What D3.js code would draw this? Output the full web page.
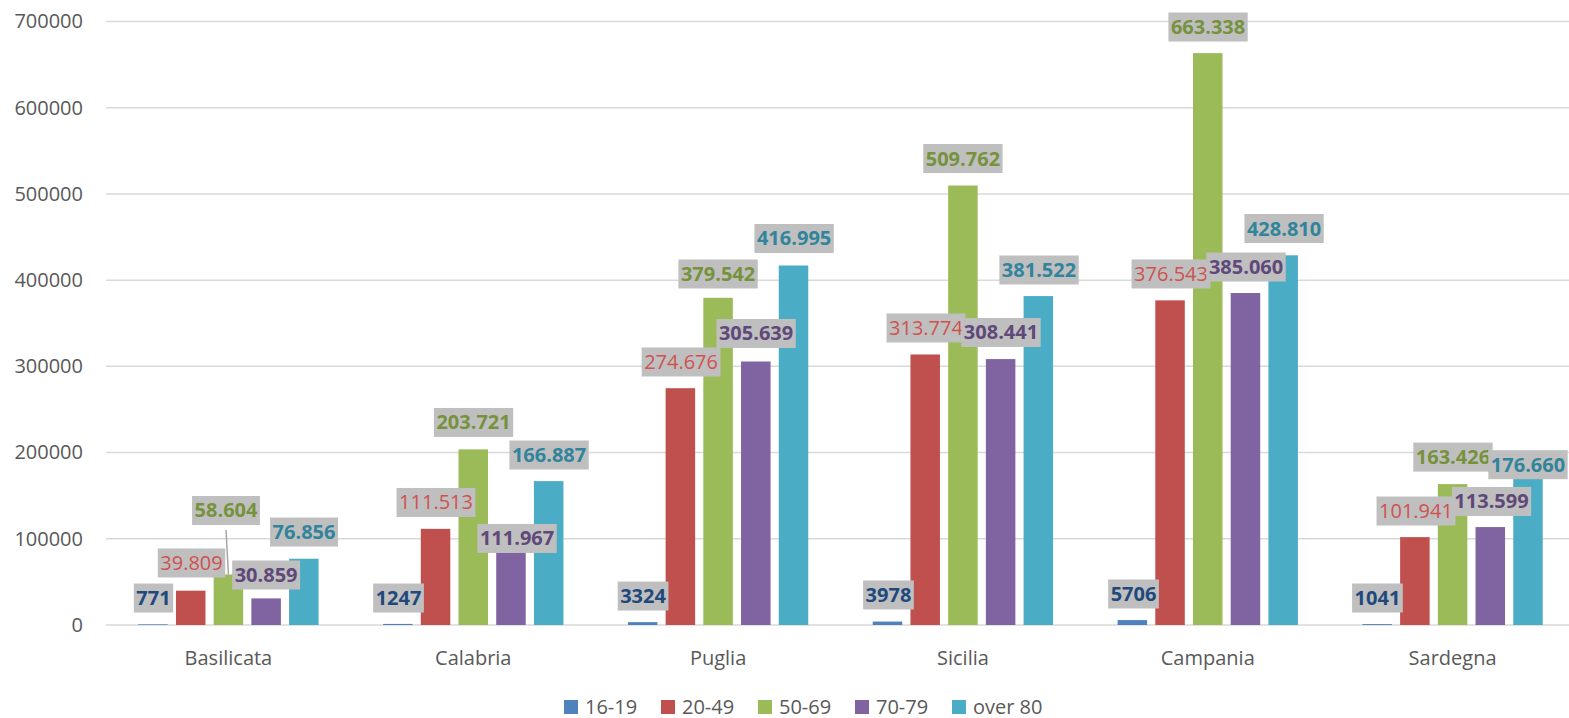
<!DOCTYPE html>
<html>
<head>
<meta charset="utf-8">
<script src="https://cdn.jsdelivr.net/npm/d3@7"></script>
<style>
  html, body { margin: 0; padding: 0; background: #ffffff; }
  svg { display: block; font-family: "Open Sans", "Noto Sans", sans-serif; }
</style>
</head>
<body>
<svg id="chart" width="1569" height="718"></svg>
<script>
// Regions on the x axis
const categories = ["Basilicata", "Calabria", "Puglia", "Sicilia", "Campania", "Sardegna"];
// Age groups (one bar per group inside each region)
const seriesNames = ["16-19", "20-49", "50-69", "70-79", "over 80"];

// Values per age group, in region order
const s16_19  = [771, 1247, 3324, 3978, 5706, 1041];
const s20_49  = [39809, 111513, 274676, 313774, 376543, 101941];
const s50_69  = [58604, 203721, 379542, 509762, 663338, 163426];
const s70_79  = [30859, 111967, 305639, 308441, 385060, 113599];
const sOver80 = [76856, 166887, 416995, 381522, 428810, 176660];
const seriesValues = [s16_19, s20_49, s50_69, s70_79, sOver80];

// Y axis ticks
const yTicks = [0, 100000, 200000, 300000, 400000, 500000, 600000, 700000];

// Styling
const barColors   = ["#4f81bd", "#c0504d", "#9bbb59", "#8064a2", "#4bacc6"];
const labelColors = ["#1f497d", "#d0524f", "#76923c", "#5f497a", "#31849b"];
const labelWeights = [700, 400, 700, 700, 700];

// Label nudges [dx, dy] from the bar's top centre, per series then region
const labelShift = [
  [[0.5,-26.3],[0.7,-25.9],[0.4,-26.1],[1,-26.6],[1.2,-26.1],[0.3,-26.1]],
  [[0.8,-27.7],[0.5,-26.4],[0.7,-26.2],[0.8,-26.5],[1,-26.4],[1.1,-26.1]],
  [[-2.4,-64],[0.3,-26.9],[0,-23.8],[0,-27],[0.3,-26.1],[0.4,-27]],
  [[0,-23.4],[6.1,10],[0.3,-28],[0.4,-26.6],[0.6,-26],[1.2,-25.6]],
  [[0.2,-26.7],[0.4,-26.1],[0.6,-27],[0.7,-26.1],[0.9,-26.8],[0,-8]]
];
// Labels that get a leader line back to their bar: [series, region]
const leaderLines = [[2, 0]];

const svg = d3.select("#chart");

const x0 = d3.scaleBand().domain(categories).range([106, 1575]).paddingInner(0).paddingOuter(0);
const x1 = d3.scaleBand().domain(seriesNames).range([0, x0.bandwidth()])
  .paddingInner(0.2175).paddingOuter(0.855);
const y = d3.scaleLinear().domain([0, 700000]).range([625, 21.5]);

// Horizontal gridlines
svg.append("g")
  .selectAll("line")
  .data(yTicks)
  .join("line")
  .attr("x1", 106).attr("x2", 1569)
  .attr("y1", d => y(d)).attr("y2", d => y(d))
  .attr("stroke", "#d9d9d9")
  .attr("stroke-width", 1.5);

// Y axis labels
const yAxis = svg.append("g")
  .attr("transform", "translate(106,0)")
  .call(d3.axisLeft(y).tickValues(yTicks).tickFormat(d3.format("d")).tickSize(0).tickPadding(23));
yAxis.select(".domain").remove();
yAxis.selectAll("text")
  .attr("font-family", "'Open Sans', sans-serif")
  .attr("font-size", 20)
  .attr("fill", "#595959");

// X axis labels
const xAxis = svg.append("g")
  .attr("transform", "translate(0,625)")
  .call(d3.axisBottom(x0).tickSize(0).tickPadding(25.8));
xAxis.select(".domain").remove();
xAxis.selectAll("text")
  .attr("font-family", "'Open Sans', sans-serif")
  .attr("font-size", 20)
  .attr("fill", "#595959");

// Bars
const barData = [];
seriesValues.forEach((vals, si) => {
  vals.forEach((v, ci) => barData.push({ si, ci, v }));
});
const barX = d => x0(categories[d.ci]) + x1(seriesNames[d.si]);
svg.append("g")
  .selectAll("rect")
  .data(barData)
  .join("rect")
  .attr("x", barX)
  .attr("y", d => y(d.v))
  .attr("width", x1.bandwidth())
  .attr("height", d => y(0) - y(d.v))
  .attr("fill", d => barColors[d.si]);

// Value formatting: dotted thousands for the larger groups
const itLocale = d3.formatLocale({ decimal: ",", thousands: ".", grouping: [3], currency: ["", " €"] });
const fmtDots = itLocale.format(",d");
const fmtPlain = d3.format("d");
const labelText = d => d.si === 0 ? fmtPlain(d.v) : fmtDots(d.v);

const labelPos = d => {
  const s = labelShift[d.si][d.ci];
  return { cx: barX(d) + x1.bandwidth() / 2 + s[0], cy: y(d.v) + s[1] };
};

const boxH = 29;

// Leader lines
const leaderG = svg.append("g");
leaderLines.forEach(([si, ci]) => {
  const d = barData.find(b => b.si === si && b.ci === ci);
  const p = labelPos(d);
  leaderG.append("line")
    .attr("x1", p.cx).attr("y1", p.cy + boxH / 2 + 5)
    .attr("x2", barX(d) + x1.bandwidth() / 2).attr("y2", y(d.v))
    .attr("stroke", "#a6a6a6")
    .attr("stroke-width", 1.5);
});

// Data labels on grey boxes, series by series
const labelG = svg.append("g");
barData.forEach(d => {
  const p = labelPos(d);
  const g = labelG.append("g");
  const rect = g.append("rect").attr("fill", "#bfbfbf");
  const t = g.append("text")
    .attr("x", p.cx)
    .attr("y", p.cy + 7)
    .attr("text-anchor", "middle")
    .attr("font-family", "'Open Sans', sans-serif")
    .attr("font-size", 20)
    .attr("font-weight", labelWeights[d.si])
    .attr("fill", labelColors[d.si])
    .text(labelText(d));
  const w = t.node().getComputedTextLength() + 5;
  rect.attr("x", p.cx - w / 2).attr("y", p.cy - boxH / 2)
    .attr("width", w).attr("height", boxH);
});

// Legend
const legX = d3.scaleBand().domain(seriesNames).range([564, 564 + 5 * 97]);
const leg = svg.append("g")
  .selectAll("g")
  .data(seriesNames)
  .join("g")
  .attr("transform", d => `translate(${legX(d)},0)`);
leg.append("rect")
  .attr("x", 0).attr("y", 700)
  .attr("width", 14).attr("height", 14)
  .attr("fill", (d, i) => barColors[i]);
leg.append("text")
  .attr("x", 21).attr("y", 713.5)
  .attr("font-family", "'Open Sans', sans-serif")
  .attr("font-size", 20)
  .attr("fill", "#595959")
  .text(d => d);
</script>
</body>
</html>
